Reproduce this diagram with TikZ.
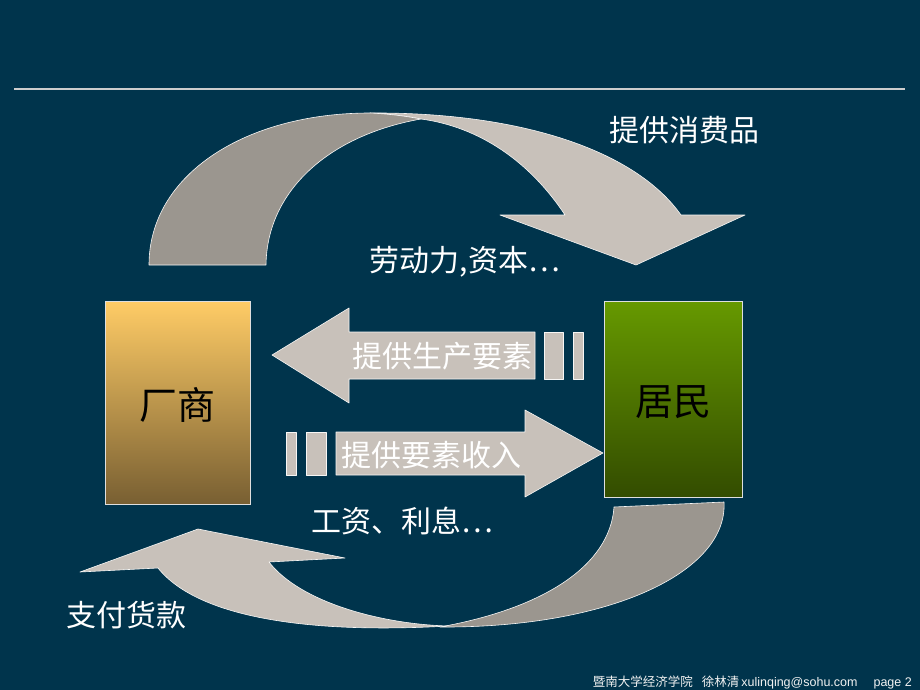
\documentclass[tikz,border=0pt]{standalone}
\usepackage{fontspec}
\setmainfont{Noto Sans CJK SC}
\newfontfamily\cjk{Noto Sans CJK SC}
\newfontfamily\foot{Liberation Sans}
\definecolor{bg}{RGB}{0,52,76}
\definecolor{bandlight}{RGB}{200,193,186}
\definecolor{banddark}{RGB}{155,150,143}
\definecolor{rulec}{RGB}{205,205,205}
\definecolor{firmtop}{RGB}{255,204,102}
\definecolor{firmbot}{RGB}{120,95,50}
\definecolor{hhtop}{RGB}{102,153,0}
\definecolor{hhbot}{RGB}{51,76,0}
\tikzset{
  shp/.style={draw=white!85!bandlight, line width=0.6pt, line join=round},
  lbl/.style={text=white, font=\cjk\fontsize{30}{34}\selectfont, inner sep=0pt},
  boxlbl/.style={text=black, font=\cjk\fontsize{38}{42}\selectfont},
  agent/.style={draw=white!75!gray, line width=0.6pt, inner sep=0pt}
}
\begin{document}
\begin{tikzpicture}[x=1pt,y=-1pt]
\fill[bg] (0,0) rectangle (920,690);
\useasboundingbox (0,0) rectangle (920,690);
\draw[rulec, line width=2pt] (14,89) -- (905,89);

% top curved arrow: light band
\fill[bandlight, shp] (370,113) .. controls (520,112) and (635,150) .. (681,215)
  -- (745,215) -- (636,265) -- (500,215) -- (565,215)
  .. controls (530,162) and (480,127) .. (421,119)
  .. controls (405,116) and (390,114) .. (370,113) -- cycle;
% top curved arrow: dark band
\fill[banddark, shp] (149,265) .. controls (149,175) and (245,113) .. (370,113)
  .. controls (390,114) and (405,116) .. (421,119)
  .. controls (330,135) and (267,190) .. (266,265) -- cycle;

% bottom curved arrow: light band
\fill[bandlight, shp] (269,562) -- (345,558) -- (198,529) -- (80,572) -- (158,568)
  .. controls (198,618) and (310,634) .. (448,626)
  .. controls (380,624) and (300,602) .. (269,562) -- cycle;
% bottom curved arrow: dark band
\fill[banddark, shp] (614,507) -- (724,502)
  .. controls (728,572) and (610,628) .. (440,627)
  .. controls (545,608) and (610,565) .. (614,507) -- cycle;

% boxes
\node[agent, minimum width=145pt, minimum height=203pt, top color=firmtop, bottom color=firmbot] (firm) at (177.5,402.5) {};
\node[boxlbl] (firmt) at (177,405) {厂商};
\node[agent, minimum width=138pt, minimum height=196pt, top color=hhtop, bottom color=hhbot] (hh) at (673,399) {};
\node[boxlbl] (hht) at (673,402) {居民};

% left arrow: factors of production
\fill[bandlight, shp] (535,332) -- (349,332) -- (349,308) -- (272,355) -- (349,403) -- (349,379) -- (535,379) -- cycle;
\fill[bandlight, shp] (544,332) rectangle (563,379);
\fill[bandlight, shp] (573,332) rectangle (583,379);
\node[lbl] (la) at (442,356) {提供生产要素};

% right arrow: factor income
\fill[bandlight, shp] (336,432) -- (525,432) -- (525,410) -- (603,453) -- (525,497) -- (525,475) -- (336,475) -- cycle;
\fill[bandlight, shp] (286,432) rectangle (296,475);
\fill[bandlight, shp] (306,432) rectangle (326,475);
\node[lbl] (ra) at (431,455) {提供要素收入};

% labels
\node[lbl] (l1) at (684,130) {提供消费品};
\node[lbl] (l2) at (465,262) {劳动力,资本…};
\node[lbl] (l3) at (402,521) {工资、利息…};
\node[lbl] (l4) at (126,615) {支付货款};

% footer
\node[anchor=base east, inner sep=0pt, text=white!90!gray, font=\fontsize{12.5}{14}\selectfont] (ft) at (912,686) {{\cjk 暨南大学经济学院}\hspace{9pt}{\cjk 徐林清}\,{\foot xulinqing@sohu.com}\hspace{16pt}{\foot page 2}};
\end{tikzpicture}
\end{document}
